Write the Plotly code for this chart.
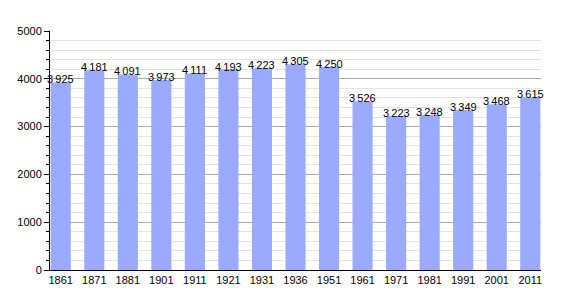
import plotly.graph_objects as go

years = ["1861","1871","1881","1901","1911","1921","1931","1936","1951","1961","1971","1981","1991","2001","2011"]
population = [3925, 4181, 4091, 3973, 4111, 4193, 4223, 4305, 4250, 3526, 3223, 3248, 3349, 3468, 3615]
labels = [f"{v:,}".replace(",", "\u2009") for v in population]

fig = go.Figure()
fig.add_trace(go.Bar(x=years, y=population, marker_color="#99aaff", marker_line_width=0,
                     width=0.6, hoverinfo="skip"))

for i, (y, t) in enumerate(zip(population, labels)):
    fig.add_annotation(x=i, y=y, text=t, showarrow=False, yanchor="bottom", yshift=-5,
                       font=dict(family="Liberation Sans, Arial", size=11, color="black"))

fig.update_layout(
    width=570, height=300, margin=dict(l=50, r=29, t=31, b=30),
    plot_bgcolor="white", paper_bgcolor="white", showlegend=False, bargap=0.4,
    font=dict(family="Liberation Sans, Arial", size=11, color="black"),
)
fig.update_xaxes(type="category", range=[-0.32, len(years) - 1 + 0.32], showline=True,
                 linecolor="black", linewidth=1, ticks="", showgrid=False, tickfont=dict(size=11))
fig.update_yaxes(range=[0, 5000], dtick=1000, showline=True, linecolor="black", linewidth=1,
                 ticks="outside", ticklen=5, tickcolor="black", gridcolor="#aaaaaa", gridwidth=1,
                 zeroline=False, tickfont=dict(size=11),
                 minor=dict(dtick=200, showgrid=True, gridcolor="#e4e4e4", ticks="outside",
                            ticklen=3, tickcolor="black"))
fig.write_html("out.html")
